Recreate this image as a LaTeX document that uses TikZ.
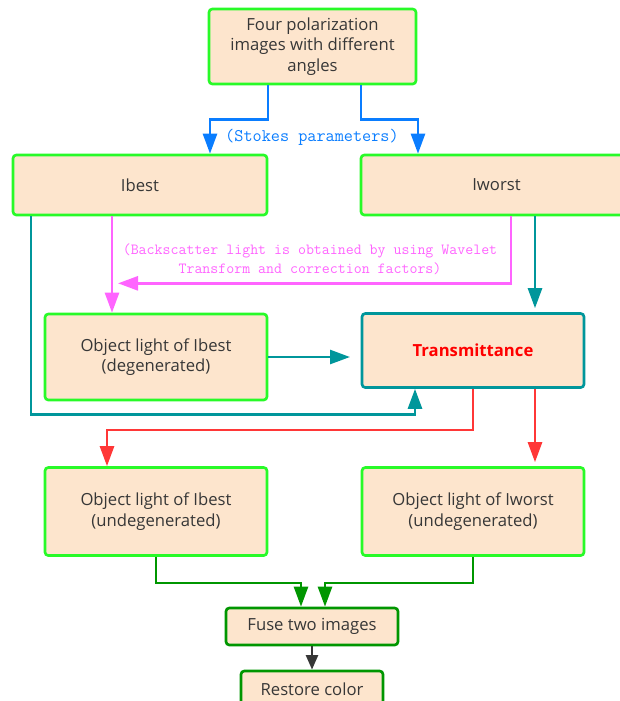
\documentclass[tikz,border=0pt]{standalone}
\usepackage{fontspec}
\setsansfont{Open Sans}
\usepackage{tikz}
\usetikzlibrary{positioning,arrows.meta,calc}

\definecolor{boxfill}{RGB}{253,229,205}
\definecolor{boxgreen}{RGB}{40,250,40}
\definecolor{darkgreen}{RGB}{0,150,0}
\definecolor{tealline}{RGB}{0,150,155}
\definecolor{redline}{RGB}{255,55,55}
\definecolor{pinkline}{RGB}{255,100,255}
\definecolor{blueline}{RGB}{10,125,255}
\definecolor{textgray}{RGB}{55,55,55}

\begin{document}
\begin{tikzpicture}[x=0.75pt, y=-0.75pt,
  every node/.style={font=\sffamily\fontsize{12.5}{15.4}\selectfont, text=textgray},
  box/.style={draw=boxgreen, fill=boxfill, line width=2pt, rounded corners=2.5pt,
    align=center, inner sep=0pt},
  arr/.style={line width=2pt, -{Triangle[length=15pt, width=10.5pt]}},
  note/.style={font=\ttfamily\fontsize{13.3}{15}\selectfont, align=center}]
  \useasboundingbox (0,0) rectangle (619,701);
  \node[box, minimum width=155.25pt, minimum height=56.25pt] (top) at (312.5,46.5)
    {Four polarization\\images with different\\angles};
  \node[box, minimum width=190.5pt, minimum height=45pt] (ibest) at (140,185) {Ibest};
  \node[box, minimum width=203.25pt, minimum height=45pt] (iworst) at (496.5,185) {Iworst};
  \node[box, minimum width=166.5pt, minimum height=64.5pt] (objdeg) at (156,357)
    {Object light of Ibest\\(degenerated)};
  \node[box, draw=tealline, minimum width=166.5pt, minimum height=55.5pt] (trans) at (473,350.5)
    {\textcolor{red}{\bfseries Transmittance}};
  \node[box, minimum width=166.5pt, minimum height=66pt] (undegb) at (156,511.5)
    {Object light of Ibest\\(undegenerated)};
  \node[box, minimum width=166.5pt, minimum height=66pt] (undegw) at (473,511.5)
    {Object light of Iworst\\(undegenerated)};
  \node[box, draw=darkgreen, minimum width=129pt, minimum height=27.75pt] (fuse) at (312,626.5)
    {Fuse two images};
  \node[box, draw=darkgreen, minimum width=106.5pt, minimum height=27pt] (restore) at (312,689)
    {Restore color};

  \node[note, text=blueline] (stokes) at (312,137) {(Stokes parameters)};
  \node[note, text=pinkline, font=\ttfamily\fontsize{11.6}{14.3}\selectfont] (backnote) at (310,259.5)
    {(Backscatter light is obtained by using Wavelet\\Transform and correction factors)};

  \draw[arr, blueline] ($(top.south)+(-44.5,0)$) -- ++(0,34) -| ($(ibest.north)+(70,0)$);
  \draw[arr, blueline] ($(top.south)+(48.5,0)$) -- ++(0,34) -| ($(iworst.north)+(-78.5,0)$);

  \draw[arr, pinkline] ($(ibest.south)+(-28,0)$) -- ($(objdeg.north)+(-44,0)$);
  \coordinate (backtip) at ($(ibest.south)+(-22,67)$);
  \draw[arr, pinkline] ($(iworst.south)+(14.5,0)$) -- ++(0,67) -- (backtip);

  \draw[arr, tealline] ($(iworst.south)+(38.5,0)$) -- ($(trans.north)+(62,-4)$);
  \draw[arr, tealline, shorten >=8pt] (objdeg.east) -- (objdeg.east -| trans.west);
  \draw[arr, tealline] ($(ibest.south)+(-109,0)$) -- ++(0,198) -| ($(trans.south)+(-58,0)$);

  \draw[arr, redline] (trans.south) -- ++(0,41) -| ($(undegb.north)+(-49,0)$);
  \draw[arr, redline] ($(trans.south)+(62,0)$) -- ($(undegw.north)+(62,-4)$);

  \draw[arr, darkgreen] (undegb.south) -- ++(0,26) -| ($(fuse.north)+(-11,0)$);
  \draw[arr, darkgreen] (undegw.south) -- ++(0,26) -| ($(fuse.north)+(13,0)$);
  \draw[arr, textgray, -{Triangle[length=11pt, width=9pt]}] (fuse.south) -- (restore.north);
\end{tikzpicture}
\end{document}
